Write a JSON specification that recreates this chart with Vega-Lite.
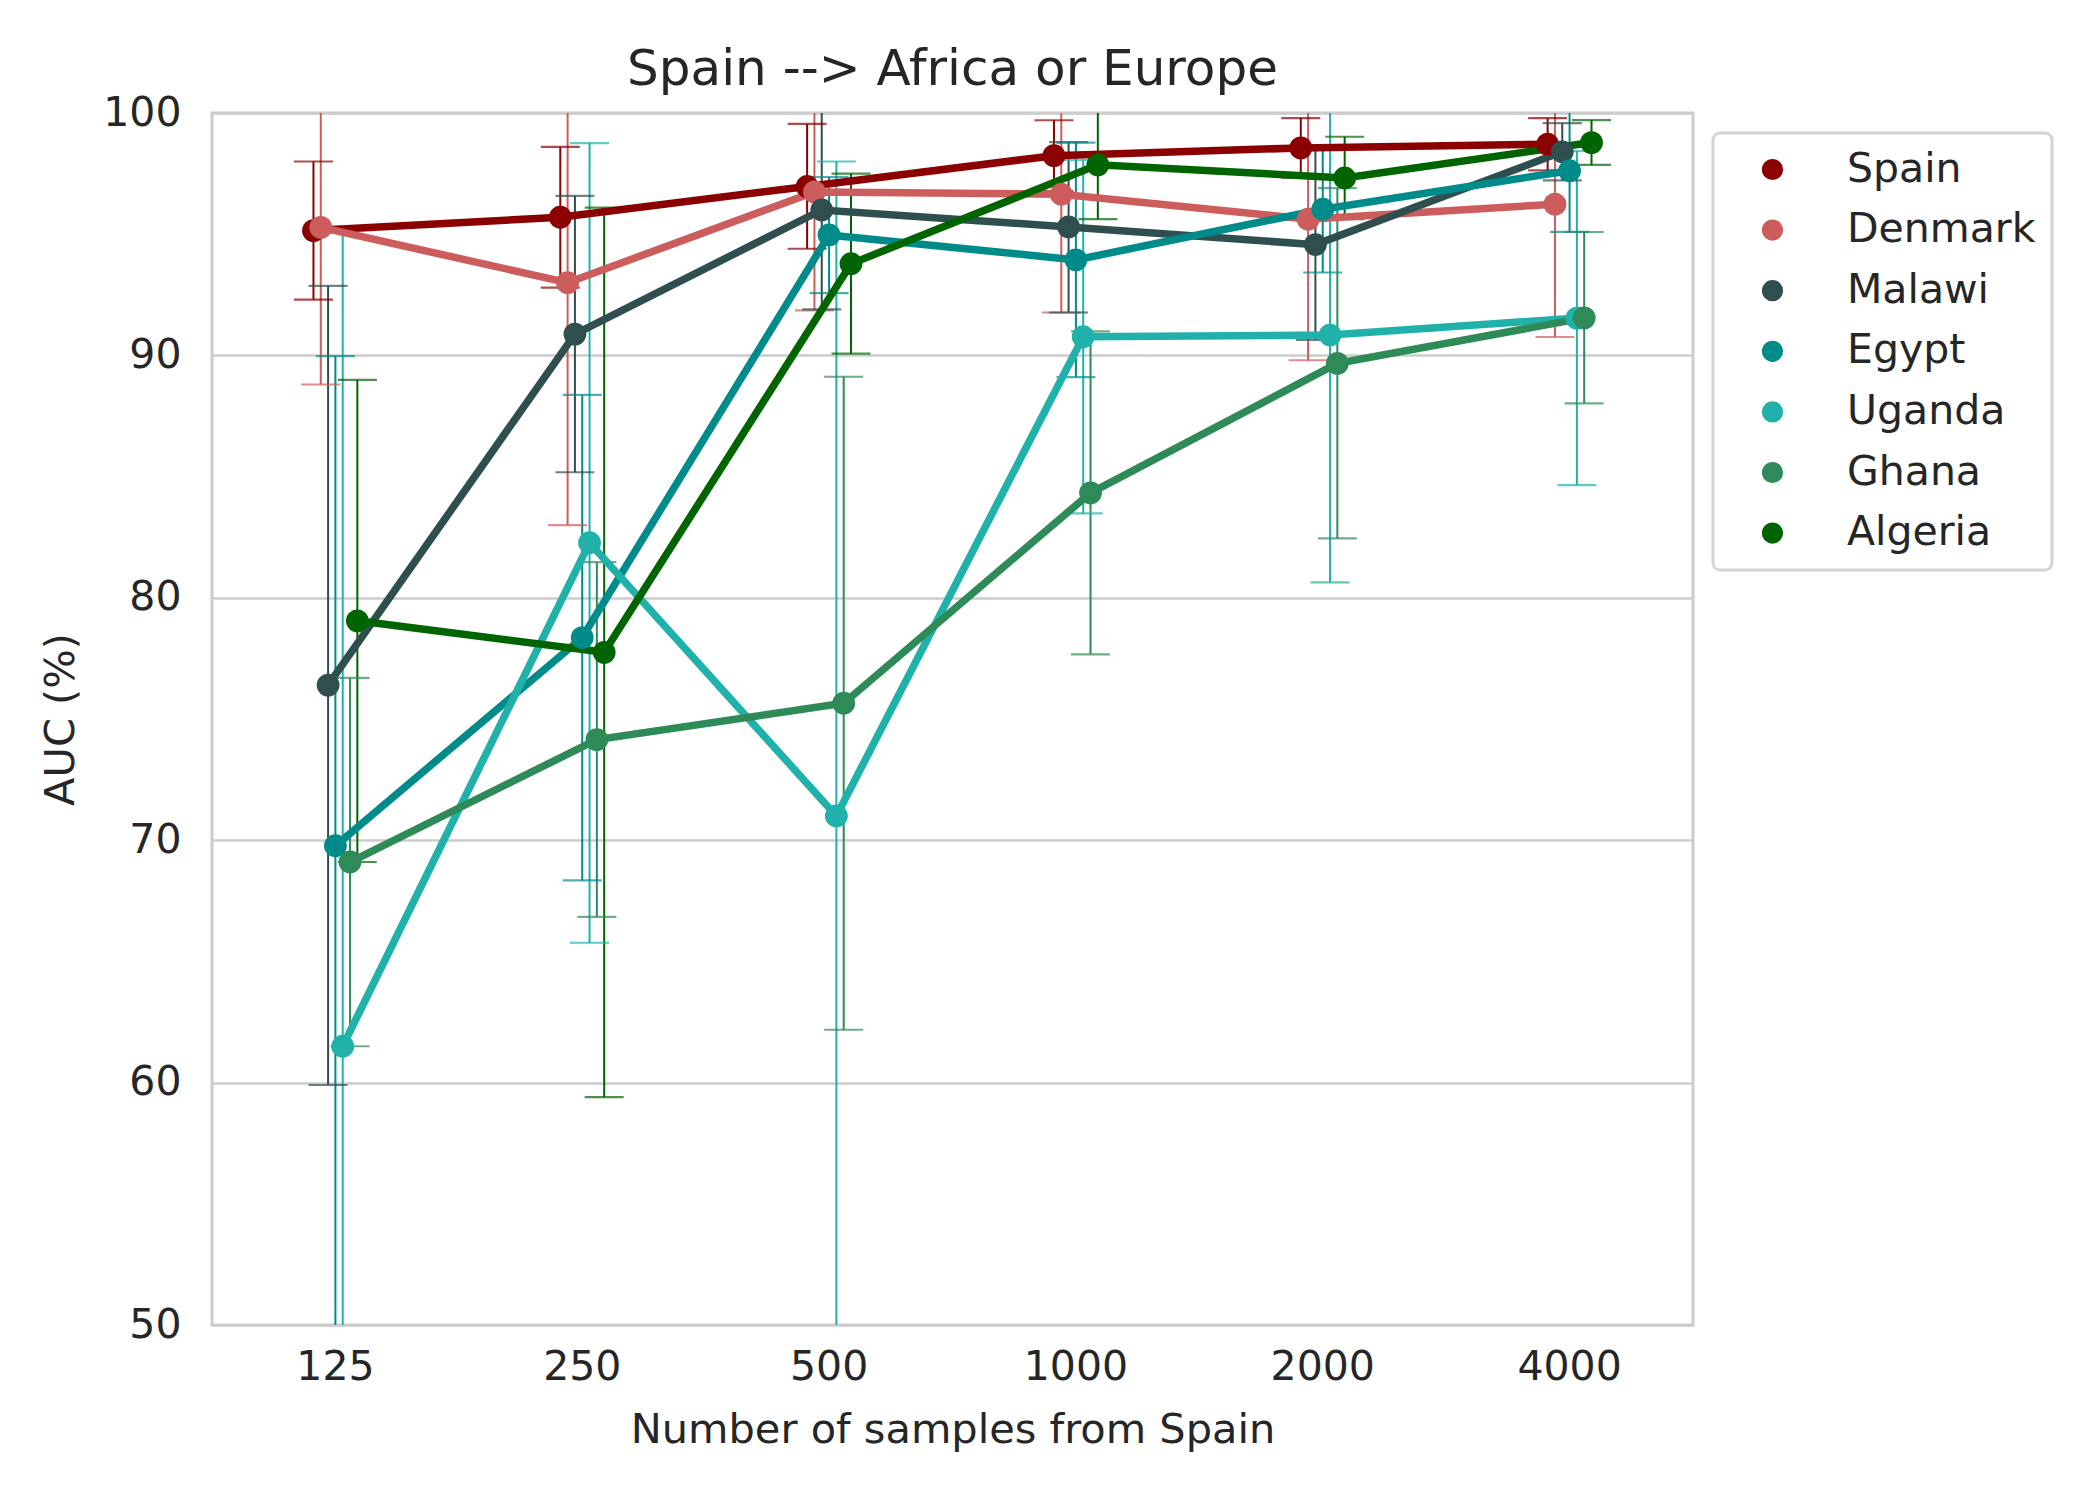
{
  "$schema": "https://vega.github.io/schema/vega-lite/v6.json",
  "width": 1481,
  "height": 1212,
  "autosize": {"type": "none"},
  "padding": {"left": 212, "top": 113, "right": 407, "bottom": 175},
  "background": "white",
  "title": {"text": "Spain --> Africa or Europe", "fontSize": 50, "fontWeight": "normal", "font": "DejaVu Sans", "color": "#262626", "anchor": "middle", "offset": -3},
  "config": {
    "font": "DejaVu Sans",
    "view": {"stroke": "#cccccc", "strokeWidth": 3},
    "axis": {"labelFont": "DejaVu Sans", "titleFont": "DejaVu Sans", "labelColor": "#262626", "titleColor": "#262626", "labelFontSize": 41, "titleFontSize": 41.5, "titleFontWeight": "normal", "ticks": false, "domain": false, "gridColor": "#cccccc", "gridWidth": 2.5},
    "legend": {"strokeColor": "#d4d4d4", "strokeWidth": 3, "cornerRadius": 7, "fillColor": "white", "padding": 16}
  },
  "data": {
    "values": [
      {"n": 125, "country": "Spain", "auc": 95.15, "lo": 92.3, "hi": 98.0},
      {"n": 250, "country": "Spain", "auc": 95.7, "lo": 92.8, "hi": 98.6},
      {"n": 500, "country": "Spain", "auc": 96.97, "lo": 94.4, "hi": 99.55},
      {"n": 1000, "country": "Spain", "auc": 98.24, "lo": 96.78, "hi": 99.7},
      {"n": 2000, "country": "Spain", "auc": 98.56, "lo": 97.33, "hi": 99.79},
      {"n": 4000, "country": "Spain", "auc": 98.71, "lo": 97.63, "hi": 99.79},
      {"n": 125, "country": "Denmark", "auc": 95.28, "lo": 88.8, "hi": 101.76},
      {"n": 250, "country": "Denmark", "auc": 93.0, "lo": 83.0, "hi": 103.0},
      {"n": 500, "country": "Denmark", "auc": 96.74, "lo": 91.86, "hi": 101.6},
      {"n": 1000, "country": "Denmark", "auc": 96.65, "lo": 91.77, "hi": 101.5},
      {"n": 2000, "country": "Denmark", "auc": 95.62, "lo": 89.8, "hi": 101.4},
      {"n": 4000, "country": "Denmark", "auc": 96.24, "lo": 90.76, "hi": 101.7},
      {"n": 125, "country": "Malawi", "auc": 76.4, "lo": 59.9, "hi": 92.87},
      {"n": 250, "country": "Malawi", "auc": 90.88, "lo": 85.18, "hi": 96.58},
      {"n": 500, "country": "Malawi", "auc": 96.0, "lo": 91.9, "hi": 100.1},
      {"n": 1000, "country": "Malawi", "auc": 95.3, "lo": 91.77, "hi": 98.8},
      {"n": 2000, "country": "Malawi", "auc": 94.57, "lo": 90.64, "hi": 98.5},
      {"n": 4000, "country": "Malawi", "auc": 98.4, "lo": 97.22, "hi": 99.58},
      {"n": 125, "country": "Egypt", "auc": 69.77, "lo": 49.57, "hi": 89.97},
      {"n": 250, "country": "Egypt", "auc": 78.36, "lo": 68.34, "hi": 88.37},
      {"n": 500, "country": "Egypt", "auc": 94.97, "lo": 92.57, "hi": 97.36},
      {"n": 1000, "country": "Egypt", "auc": 93.94, "lo": 89.1, "hi": 98.78},
      {"n": 2000, "country": "Egypt", "auc": 96.03, "lo": 93.42, "hi": 98.64},
      {"n": 4000, "country": "Egypt", "auc": 97.62, "lo": 95.1, "hi": 100.14},
      {"n": 125, "country": "Uganda", "auc": 61.5, "lo": 27.7, "hi": 95.3},
      {"n": 250, "country": "Uganda", "auc": 82.27, "lo": 65.77, "hi": 98.76},
      {"n": 500, "country": "Uganda", "auc": 71.0, "lo": 44.0, "hi": 98.0},
      {"n": 1000, "country": "Uganda", "auc": 90.77, "lo": 83.48, "hi": 98.07},
      {"n": 2000, "country": "Uganda", "auc": 90.84, "lo": 80.64, "hi": 101.04},
      {"n": 4000, "country": "Uganda", "auc": 91.54, "lo": 84.65, "hi": 98.43},
      {"n": 125, "country": "Ghana", "auc": 69.1, "lo": 61.5, "hi": 76.7},
      {"n": 250, "country": "Ghana", "auc": 74.15, "lo": 66.84, "hi": 81.47},
      {"n": 500, "country": "Ghana", "auc": 75.65, "lo": 62.18, "hi": 89.12},
      {"n": 1000, "country": "Ghana", "auc": 84.33, "lo": 77.67, "hi": 90.99},
      {"n": 2000, "country": "Ghana", "auc": 89.67, "lo": 82.45, "hi": 96.9},
      {"n": 4000, "country": "Ghana", "auc": 91.55, "lo": 88.02, "hi": 95.09},
      {"n": 125, "country": "Algeria", "auc": 79.05, "lo": 69.1, "hi": 88.99},
      {"n": 250, "country": "Algeria", "auc": 77.75, "lo": 59.4, "hi": 96.1},
      {"n": 500, "country": "Algeria", "auc": 93.78, "lo": 90.07, "hi": 97.5},
      {"n": 1000, "country": "Algeria", "auc": 97.86, "lo": 95.62, "hi": 100.1},
      {"n": 2000, "country": "Algeria", "auc": 97.32, "lo": 95.62, "hi": 99.02},
      {"n": 4000, "country": "Algeria", "auc": 98.78, "lo": 97.86, "hi": 99.71}
    ]
  },
  "encoding": {
    "x": {
      "field": "n",
      "type": "ordinal",
      "title": "Number of samples from Spain",
      "scale": {"paddingInner": 0, "paddingOuter": 0},
      "axis": {"labelAngle": 0, "labelPadding": 22, "titlePadding": 22, "grid": false}
    },
    "xOffset": {
      "field": "country",
      "type": "nominal",
      "sort": ["Spain", "Denmark", "Malawi", "Egypt", "Uganda", "Ghana", "Algeria"],
      "scale": {"range": [97.8, 149.0], "paddingInner": 0, "paddingOuter": 0}
    }
  },
  "layer": [
    {
      "mark": {"type": "rule", "strokeWidth": 2, "clip": true},
      "encoding": {
        "y": {"field": "lo", "type": "quantitative"},
        "y2": {"field": "hi"},
        "stroke": {
          "field": "country",
          "type": "nominal",
          "scale": {
            "domain": ["Algeria", "Ghana", "Uganda", "Egypt", "Malawi", "Denmark", "Spain"],
            "range": ["#006400", "#2e8b57", "#20b2aa", "#008b8b", "#2f4f4f", "#cd5c5c", "#8b0000"]
          },
          "legend": null
        }
      }
    },
    {
      "mark": {"type": "tick", "orient": "horizontal", "size": 39, "thickness": 2.2, "clip": true},
      "encoding": {
        "y": {"field": "lo", "type": "quantitative"},
        "fill": {
          "field": "country",
          "type": "nominal",
          "scale": {
            "domain": ["Denmark", "Spain", "Egypt", "Malawi", "Ghana", "Uganda", "Algeria"],
            "range": ["#cd5c5c", "#8b0000", "#008b8b", "#2f4f4f", "#2e8b57", "#20b2aa", "#006400"]
          },
          "legend": null
        }
      }
    },
    {
      "mark": {"type": "tick", "orient": "horizontal", "size": 39, "thickness": 2.2, "clip": true},
      "encoding": {
        "y": {"field": "hi", "type": "quantitative"},
        "fill": {"field": "country", "type": "nominal", "legend": null}
      }
    },
    {
      "mark": {"type": "line", "strokeWidth": 7.5},
      "encoding": {
        "y": {"field": "auc", "type": "quantitative"},
        "stroke": {"field": "country", "type": "nominal", "legend": null}
      }
    },
    {
      "mark": {"type": "point", "filled": true, "size": 520, "opacity": 1, "shape": "circle"},
      "encoding": {
        "y": {
          "field": "auc",
          "type": "quantitative",
          "title": "AUC (%)",
          "scale": {"domain": [50, 100], "nice": false, "zero": false},
          "axis": {"values": [50, 60, 70, 80, 90, 100], "labelPadding": 31, "titlePadding": 20, "grid": true}
        },
        "color": {
          "field": "country",
          "type": "nominal",
          "sort": ["Spain", "Denmark", "Malawi", "Egypt", "Uganda", "Ghana", "Algeria"],
          "scale": {
            "domain": ["Spain", "Denmark", "Malawi", "Egypt", "Uganda", "Ghana", "Algeria"],
            "range": ["#8b0000", "#cd5c5c", "#2f4f4f", "#008b8b", "#20b2aa", "#2e8b57", "#006400"]
          },
          "legend": {
            "title": null,
            "orient": "none",
            "legendX": 1501,
            "legendY": 20,
            "rowPadding": 18.6,
            "symbolType": "circle",
            "symbolSize": 450,
            "symbolOffset": 23,
            "labelOffset": 54,
            "labelLimit": 500,
            "labelFontSize": 41,
            "labelFont": "DejaVu Sans",
            "labelColor": "#262626"
          }
        }
      }
    }
  ]
}
